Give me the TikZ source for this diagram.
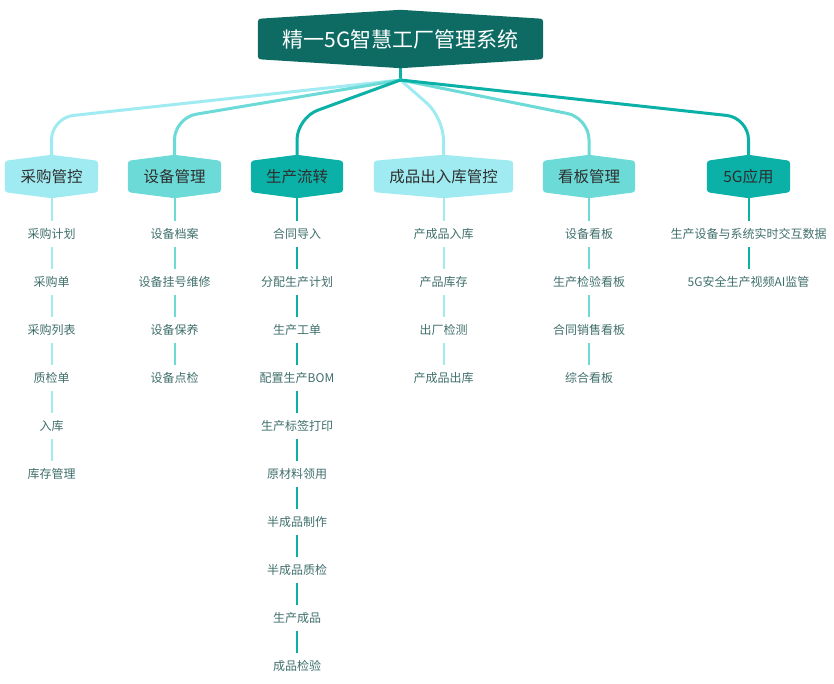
\documentclass[tikz,border=0pt]{standalone}
\usepackage{fontspec}
\setmainfont{Noto Sans CJK SC}
\usetikzlibrary{calc}
\definecolor{cLight}{HTML}{A0EBF1}
\definecolor{cMid}{HTML}{6CDAD6}
\definecolor{cDark}{HTML}{0BB0A6}
\definecolor{cRoot}{HTML}{0E6B63}
\definecolor{cItem}{HTML}{3F6F6B}
\definecolor{cHead}{HTML}{2E2E2E}
\pgfdeclarelayer{edges}
\pgfdeclarelayer{shapes}
\pgfsetlayers{edges,shapes,main}
\newcommand\hexfill[3]{%
  \begin{pgfonlayer}{shapes}
  \fill[#2, rounded corners=3pt] (#1.north west) -- ([yshift=#3]#1.north) -- (#1.north east) -- (#1.south east) -- ([yshift=-#3]#1.south) -- (#1.south west) -- cycle;
  \end{pgfonlayer}}
\begin{document}
\begin{tikzpicture}[x=1pt,y=-1pt,
  rootbox/.style={inner sep=0pt, minimum width=285pt, minimum height=40pt, text=white, font=\fontsize{21}{24}\selectfont},
  head/.style={inner sep=0pt, minimum height=31pt, font=\fontsize{15.5}{18}\selectfont, text=cHead},
  item/.style={inner sep=0pt, minimum height=26pt, font=\fontsize{12}{14}\selectfont, text=cItem},
  conn/.style={line width=3pt, rounded corners=22pt},
  sub/.style={line width=2pt},
]
\useasboundingbox (0,0) rectangle (834,683);

% root
\node[rootbox] (root) at (400.5,39) {精一5G智慧工厂管理系统};
\hexfill{root}{cRoot}{9pt}
\coordinate (J) at (400.5,80);

% level 1
\node[head, minimum width=93pt] (a) at (51.5,176.5) {采购管控};
\node[head, minimum width=93pt] (b) at (174.5,176.5) {设备管理};
\node[head, minimum width=92pt] (c) at (297,176.5) {生产流转};
\node[head, minimum width=139pt] (d) at (443.5,176.5) {成品出入库管控};
\node[head, minimum width=92pt] (e) at (589,176.5) {看板管理};
\node[head, minimum width=83pt] (f) at (748.5,176.5) {5G应用};
\hexfill{a}{cLight}{6pt}
\hexfill{b}{cMid}{6pt}
\hexfill{c}{cDark}{6pt}
\hexfill{d}{cLight}{6pt}
\hexfill{e}{cMid}{6pt}
\hexfill{f}{cDark}{6pt}

% items
\foreach \t [count=\i] in {采购计划,采购单,采购列表,质检单,入库,库存管理}
  \node[item] (a\i) at (51.5,{186+48*\i}) {\t};
\foreach \t [count=\i] in {设备档案,设备挂号维修,设备保养,设备点检}
  \node[item] (b\i) at (174.5,{186+48*\i}) {\t};
\foreach \t [count=\i] in {合同导入,分配生产计划,生产工单,配置生产BOM,生产标签打印,原材料领用,半成品制作,半成品质检,生产成品,成品检验}
  \node[item] (c\i) at (297,{186+48*\i}) {\t};
\foreach \t [count=\i] in {产成品入库,产品库存,出厂检测,产成品出库}
  \node[item] (d\i) at (443.5,{186+48*\i}) {\t};
\foreach \t [count=\i] in {设备看板,生产检验看板,合同销售看板,综合看板}
  \node[item] (e\i) at (589,{186+48*\i}) {\t};
\foreach \t [count=\i] in {生产设备与系统实时交互数据,5G安全生产视频AI监管}
  \node[item] (f\i) at (748.5,{186+48*\i}) {\t};

\begin{pgfonlayer}{edges}
  \draw[cDark, line width=2.5pt] (root.south) -- (J);
  \draw[conn, cLight] (J) -- ([yshift=43pt]a.north) -- (a.north);
  \draw[conn, cMid] (J) -- ([yshift=43pt]b.north) -- (b.north);
  \draw[conn, cLight] (J) -- ([yshift=43pt]d.north) -- (d.north);
  \draw[conn, cMid] (J) -- ([yshift=43pt]e.north) -- (e.north);
  \draw[conn, cDark] (J) -- ([yshift=43pt]c.north) -- (c.north);
  \draw[conn, cDark] (J) -- ([yshift=43pt]f.north) -- (f.north);
  % column lines
  \draw[sub, cLight] (a.south) -- (a1.north);
  \foreach \i [evaluate=\i as \j using int(\i+1)] in {1,...,5}
    \draw[sub, cLight] (a\i.south) -- (a\j.north);
  \draw[sub, cMid] (b.south) -- (b1.north);
  \foreach \i [evaluate=\i as \j using int(\i+1)] in {1,...,3}
    \draw[sub, cMid] (b\i.south) -- (b\j.north);
  \draw[sub, cDark] (c.south) -- (c1.north);
  \foreach \i [evaluate=\i as \j using int(\i+1)] in {1,...,9}
    \draw[sub, cDark] (c\i.south) -- (c\j.north);
  \draw[sub, cLight] (d.south) -- (d1.north);
  \foreach \i [evaluate=\i as \j using int(\i+1)] in {1,...,3}
    \draw[sub, cLight] (d\i.south) -- (d\j.north);
  \draw[sub, cMid] (e.south) -- (e1.north);
  \foreach \i [evaluate=\i as \j using int(\i+1)] in {1,...,3}
    \draw[sub, cMid] (e\i.south) -- (e\j.north);
  \draw[sub, cDark] (f.south) -- (f1.north);
  \draw[sub, cDark] (f1.south) -- (f2.north);
\end{pgfonlayer}
\end{tikzpicture}
\end{document}
